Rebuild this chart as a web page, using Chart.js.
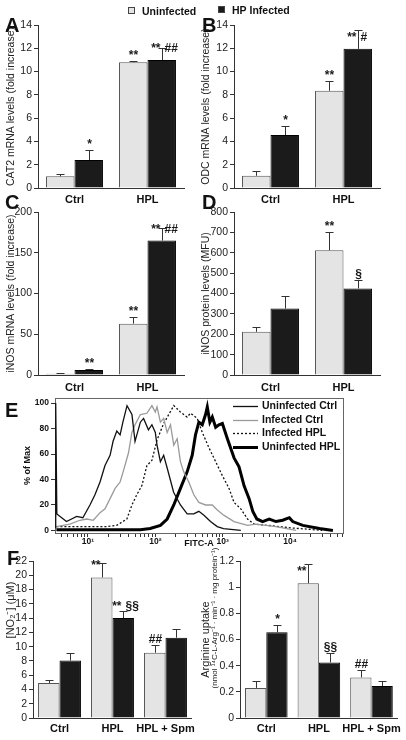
<!DOCTYPE html>
<html>
<head>
<meta charset="utf-8">
<script src="https://cdn.jsdelivr.net/npm/chart.js@4.4.1/dist/chart.umd.min.js"></script>
<style>
  html, body { margin: 0; padding: 0; background: #fff; }
  #page { position: relative; width: 406px; height: 740px; overflow: hidden; background: #fff; }
  #page canvas { position: absolute; }
</style>
</head>
<body>
<div id="page">
  <canvas id="chartA" style="left:0;top:0;width:200px;height:210px" width="200" height="210"></canvas>
  <canvas id="chartB" style="left:196px;top:0;width:210px;height:210px" width="210" height="210"></canvas>
  <canvas id="chartC" style="left:0;top:195px;width:200px;height:200px" width="200" height="200"></canvas>
  <canvas id="chartD" style="left:196px;top:195px;width:210px;height:200px" width="210" height="200"></canvas>
  <canvas id="chartE" style="left:0;top:390px;width:406px;height:160px" width="406" height="160"></canvas>
  <canvas id="chartF1" style="left:0;top:548px;width:200px;height:192px" width="200" height="192"></canvas>
  <canvas id="chartF2" style="left:196px;top:548px;width:210px;height:192px" width="210" height="192"></canvas>
</div>
<script>
// ---- data ----
const twoGroups = ['Ctrl', 'HPL'];
const threeGroups = ['Ctrl', 'HPL', 'HPL + Spm'];

// A: CAT2 mRNA (fold increase)
const cat2Uninfected = [1.0, 10.8];
const cat2UninfectedErr = [0.2, 0.12];
const cat2Infected = [2.4, 11.0];
const cat2InfectedErr = [0.9, 1.0];
const cat2UninfectedMarks = ['', '**'];
const cat2InfectedMarks = ['*', '** ##'];

// B: ODC mRNA (fold increase)
const odcUninfected = [1.05, 8.35];
const odcUninfectedErr = [0.37, 0.8];
const odcInfected = [4.55, 11.95];
const odcInfectedErr = [0.77, 1.6];
const odcUninfectedMarks = ['', '**'];
const odcInfectedMarks = ['*', '** #'];

// C: iNOS mRNA (fold increase)
const inosUninfected = [1.5, 63];
const inosUninfectedErr = [0.5, 8];
const inosInfected = [6, 165];
const inosInfectedErr = [1.2, 15];
const inosUninfectedMarks = ['', '**'];
const inosInfectedMarks = ['**', '** ##'];

// D: iNOS protein (MFU)
const protUninfected = [212, 612];
const protUninfectedErr = [25, 88];
const protInfected = [326, 425];
const protInfectedErr = [60, 42];
const protUninfectedMarks = ['', '**'];
const protInfectedMarks = ['', '§'];

// E: flow cytometry histograms (FITC-A vs % of max)
const histYTicks = [0, 20, 40, 60, 80, 100];
const uninfCtrlX = [3.3, 3.32, 3.45, 4.8, 6.8, 8.4, 10.7, 12.7, 15.1, 17.9, 21.3, 23.6, 26.8, 30, 33, 38, 45, 50, 60, 67, 79, 89, 100, 106, 119, 133, 150, 187, 236, 297, 372, 443, 527, 660, 830, 1030, 1860];
const uninfCtrlY = [2, 100, 13, 7, 11, 10, 20, 28, 38, 51, 59, 70, 78, 75, 85, 98, 91, 70, 85, 88, 79, 83, 77, 67, 54, 59, 49, 30, 20, 13, 13, 15, 12, 7, 3, 1.5, 0];
const infCtrlX = [3.4, 5.4, 7.6, 9.6, 12, 15.1, 17.9, 21.3, 25.3, 30, 33.7, 40, 44.9, 50, 60, 75, 89, 100, 106, 119, 133, 150, 168, 188, 211, 236, 264, 314, 373, 443, 557, 702, 834, 1035, 1476, 2339, 3112, 6184, 12300];
const infCtrlY = [3, 5, 8, 9, 8, 14, 17, 25, 33, 38, 47, 61, 77, 83, 91, 92, 98, 93, 97, 85, 88, 77, 83, 67, 72, 54, 46, 38, 28, 22, 20, 20, 16, 12, 7, 4, 5, 3, 0];
const infHplX = [3.4, 8.5, 19, 26.8, 37.8, 45, 53, 63, 75, 89, 106, 133, 188, 236, 297, 333, 419, 498, 625, 787, 990, 1243, 1476, 1858, 2339, 2931, 4645, 10350, 18370, 30000];
const infHplY = [3, 3, 3, 4, 9, 20, 28, 35, 51, 55, 71, 84, 98, 93, 89, 92, 88, 77, 65, 54, 43, 33, 22, 17, 9, 5, 4, 2, 1, 0];
const uninfHplX = [3.4, 60, 84, 119, 150, 188, 236, 297, 353, 395, 443, 498, 557, 591, 646, 702, 787, 881, 990, 1175, 1476, 1750, 2081, 2470, 2805, 3215, 3916, 4912, 6184, 7780, 9770, 10970, 15470, 27370, 43350];
const uninfHplY = [0.5, 0.5, 1.5, 4, 9, 20, 33, 46, 59, 75, 85, 83, 91, 97, 85, 89, 81, 83, 84, 72, 57, 50, 35, 25, 15, 9, 7, 9, 7, 8, 10, 7, 4, 1.5, 0];

// F: nitrite and arginine uptake
const no2Uninfected = [4.9, 19.7, 9.15];
const no2UninfectedErr = [0.47, 1.95, 1.07];
const no2Infected = [8.05, 14.0, 11.25];
const no2InfectedErr = [1.0, 0.93, 1.16];
const no2UninfectedMarks = ['', '** ', '##'];
const no2InfectedMarks = ['', '** §§', ''];

const argUninfected = [0.23, 1.03, 0.31];
const argUninfectedErr = [0.05, 0.145, 0.055];
const argInfected = [0.655, 0.425, 0.245];
const argInfectedErr = [0.056, 0.071, 0.04];
const argUninfectedMarks = ['', '** ', '##'];
const argInfectedMarks = ['*', '§§', ''];

// ---- styling ----
const FONT = '"Liberation Sans", Arial, Helvetica, sans-serif';
const LIGHT = '#e4e4e4', LIGHT_EDGE = '#555';
const DARK = '#1b1b1b', DARK_EDGE = '#000';
Chart.defaults.font.family = FONT;
Chart.defaults.color = '#222';

// error bars (upward only) + significance marks
const errorBars = {
  id: 'errorBars',
  afterDatasetsDraw(chart) {
    const ctx = chart.ctx;
    const yScale = chart.scales.y;
    chart.data.datasets.forEach((ds, di) => {
      const meta = chart.getDatasetMeta(di);
      meta.data.forEach((bar, i) => {
        const x = Math.round(bar.x) + 0.5;
        const cy = Math.round(yScale.getPixelForValue(ds.data[i] + ds.errors[i])) + 0.5;
        ctx.save();
        ctx.strokeStyle = '#333';
        ctx.lineWidth = 1;
        ctx.beginPath();
        ctx.moveTo(x, bar.y);
        ctx.lineTo(x, cy);
        ctx.moveTo(x - 4, cy);
        ctx.lineTo(x + 4, cy);
        ctx.stroke();
        const mark = ds.marks[i];
        if (mark) {
          ctx.fillStyle = '#1a1a1a';
          ctx.font = 'bold 12px ' + FONT;
          ctx.textBaseline = 'alphabetic';
          if (mark.indexOf(' ') >= 0) {
            // split around the error bar
            const parts = mark.split(' ');
            const by = bar.y - 8;
            ctx.textAlign = 'right';
            ctx.fillText(parts[0], x - 2, by);
            ctx.textAlign = 'left';
            ctx.fillText(parts[1], x + 2, by);
          } else {
            ctx.textAlign = 'center';
            ctx.fillText(mark, x, cy - 3);
          }
        }
        ctx.restore();
      });
    });
  }
};

// panel letters, top key, extra rotated labels
const panelText = {
  id: 'panelText',
  afterDraw(chart, args, o) {
    const ctx = chart.ctx;
    ctx.save();
    ctx.fillStyle = '#111';
    ctx.textBaseline = 'alphabetic';
    ctx.textAlign = 'left';
    if (o.letter) {
      ctx.font = 'bold 20px ' + FONT;
      ctx.fillText(o.letter, o.lx, o.ly);
    }
    if (o.key) {
      const ds = chart.data.datasets[o.key.dataset];
      ctx.fillStyle = ds.backgroundColor;
      ctx.fillRect(o.key.x, o.key.y, 7, 7);
      ctx.strokeStyle = '#444';
      ctx.lineWidth = 1;
      ctx.strokeRect(o.key.x + 0.5, o.key.y + 0.5, 6, 6);
      ctx.fillStyle = '#111';
      ctx.font = 'bold 10.5px ' + FONT;
      ctx.fillText(ds.label, o.key.x + 14, o.key.y + 7.5);
    }
    (o.side || []).forEach(s => {
      ctx.save();
      ctx.translate(s.x, s.y);
      ctx.rotate(-Math.PI / 2);
      ctx.textAlign = 'center';
      ctx.textBaseline = 'middle';
      ctx.font = s.font;
      ctx.fillStyle = '#222';
      ctx.fillText(s.text, 0, 0);
      ctx.restore();
    });
    ctx.restore();
  }
};

function barPanel(id, p) {
  return new Chart(document.getElementById(id), {
    type: 'bar',
    data: {
      labels: p.labels,
      datasets: [
        { label: 'Uninfected', data: p.uninf, errors: p.uninfErr, marks: p.uninfMarks,
          backgroundColor: LIGHT, borderColor: LIGHT_EDGE, borderWidth: 1 },
        { label: 'HP Infected', data: p.inf, errors: p.infErr, marks: p.infMarks,
          backgroundColor: DARK, borderColor: DARK_EDGE, borderWidth: 1 }
      ]
    },
    options: {
      responsive: false,
      animation: false,
      layout: { padding: p.pad },
      datasets: { bar: { categoryPercentage: p.catPct, barPercentage: 1, borderSkipped: 'bottom' } },
      scales: {
        x: {
          ticks: { color: '#111', font: { size: 11, weight: 'bold' }, padding: p.xPad,
                   maxRotation: 0, minRotation: 0, autoSkip: false },
          grid: { drawOnChartArea: false, drawTicks: false },
          border: { color: '#333' },
          afterFit: s => { s.height = p.xHeight; }
        },
        y: {
          min: 0,
          max: p.yMax,
          ticks: { stepSize: p.yStep, autoSkip: false, color: '#222', font: { size: 10.5 }, padding: 2,
                   callback: v => String(+v.toFixed(1)) },
          grid: { drawOnChartArea: false, tickLength: 4, color: '#333' },
          border: { color: '#333' },
          title: { display: !!p.title, text: p.title, color: '#222',
                   font: { size: p.titleSize || 10.5 }, padding: { top: p.titlePad, bottom: 0 } },
          afterFit: s => { s.width = p.yWidth; }
        }
      },
      plugins: { legend: { display: false }, tooltip: { enabled: false }, panelText: p.text }
    },
    plugins: [errorBars, panelText]
  });
}

barPanel('chartA', {
  labels: twoGroups, uninf: cat2Uninfected, uninfErr: cat2UninfectedErr, uninfMarks: cat2UninfectedMarks,
  inf: cat2Infected, infErr: cat2InfectedErr, infMarks: cat2InfectedMarks,
  yMax: 14, yStep: 2, title: 'CAT2 mRNA levels (fold increase)', titlePad: 5,
  pad: { top: 25, right: 16, left: 0, bottom: 0 }, yWidth: 38, xHeight: 22, xPad: 5, catPct: 0.78,
  text: { letter: 'A', lx: 5, ly: 32, key: { dataset: 0, x: 128, y: 7 } }
});
barPanel('chartB', {
  labels: twoGroups, uninf: odcUninfected, uninfErr: odcUninfectedErr, uninfMarks: odcUninfectedMarks,
  inf: odcInfected, infErr: odcInfectedErr, infMarks: odcInfectedMarks,
  yMax: 14, yStep: 2, title: 'ODC mRNA levels (fold increase)', titlePad: 4,
  pad: { top: 25, right: 26, left: 0, bottom: 0 }, yWidth: 38, xHeight: 22, xPad: 5, catPct: 0.78,
  text: { letter: 'B', lx: 6, ly: 32, key: { dataset: 1, x: 22, y: 6 } }
});
barPanel('chartC', {
  labels: twoGroups, uninf: inosUninfected, uninfErr: inosUninfectedErr, uninfMarks: inosUninfectedMarks,
  inf: inosInfected, infErr: inosInfectedErr, infMarks: inosInfectedMarks,
  yMax: 200, yStep: 50, title: 'iNOS mRNA levels (fold increase)', titlePad: 5,
  pad: { top: 17, right: 16, left: 0, bottom: 0 }, yWidth: 38, xHeight: 20, xPad: 6, catPct: 0.78,
  text: { letter: 'C', lx: 5, ly: 14 }
});
barPanel('chartD', {
  labels: twoGroups, uninf: protUninfected, uninfErr: protUninfectedErr, uninfMarks: protUninfectedMarks,
  inf: protInfected, infErr: protInfectedErr, infMarks: protInfectedMarks,
  yMax: 800, yStep: 100, title: 'iNOS protein levels (MFU)', titlePad: 4,
  pad: { top: 17, right: 26, left: 0, bottom: 0 }, yWidth: 38, xHeight: 20, xPad: 6, catPct: 0.78,
  text: { letter: 'D', lx: 6, ly: 14 }
});
barPanel('chartF1', {
  labels: threeGroups, uninf: no2Uninfected, uninfErr: no2UninfectedErr, uninfMarks: no2UninfectedMarks,
  inf: no2Infected, infErr: no2InfectedErr, infMarks: no2InfectedMarks,
  yMax: 22, yStep: 2, title: null, titlePad: 0,
  pad: { top: 13, right: 8, left: 0, bottom: 0 }, yWidth: 33, xHeight: 22, xPad: 4, catPct: 0.81,
  text: { letter: 'F', lx: 7, ly: 17,
          side: [{ text: '[NO\u2082\u207B] (\u03BCM)', x: 11, y: 62, font: '11px ' + FONT }] }
});
barPanel('chartF2', {
  labels: threeGroups, uninf: argUninfected, uninfErr: argUninfectedErr, uninfMarks: argUninfectedMarks,
  inf: argInfected, infErr: argInfectedErr, infMarks: argInfectedMarks,
  yMax: 1.2, yStep: 0.2, title: 'Arginine uptake', titlePad: 3, titleSize: 11,
  pad: { top: 13, right: 8, left: 0, bottom: 0 }, yWidth: 44, xHeight: 22, xPad: 4, catPct: 0.81,
  text: { side: [{ text: '(nmol \u00B9\u2074C-L-Arg\u207B\u00B9 \u00B7 min\u207B\u00B9 \u00B7 mg protein\u207B\u00B9)',
                   x: 19, y: 70, font: '8px ' + FONT }] }
});

// ---- E: histogram overlay ----
const toPoints = (xs, ys) => xs.map((x, i) => ({ x: x, y: ys[i] }));
const SUP = ['\u2070', '\u00B9', '\u00B2', '\u00B3', '\u2074', '\u2075'];

const frameBox = {
  id: 'frameBox',
  beforeDatasetsDraw(chart) {
    const a = chart.chartArea, ctx = chart.ctx;
    ctx.save();
    ctx.strokeStyle = '#666';
    ctx.lineWidth = 1;
    ctx.strokeRect(Math.round(a.left) + 0.5, Math.round(a.top) + 0.5,
                   Math.round(a.right - a.left), Math.round(a.bottom - a.top));
    ctx.restore();
  }
};
const lineKey = {
  id: 'lineKey',
  afterDraw(chart, args, o) {
    const ctx = chart.ctx;
    ctx.save();
    chart.data.datasets.forEach((ds, i) => {
      const y = Math.round(o.y + i * o.gap) + 0.5;
      ctx.strokeStyle = ds.borderColor;
      ctx.lineWidth = ds.borderWidth;
      ctx.setLineDash(ds.borderDash || []);
      ctx.beginPath();
      ctx.moveTo(o.x, y);
      ctx.lineTo(o.x + 25, y);
      ctx.stroke();
      ctx.setLineDash([]);
      ctx.fillStyle = '#111';
      ctx.font = 'bold 10.5px ' + FONT;
      ctx.textAlign = 'left';
      ctx.textBaseline = 'middle';
      ctx.fillText(ds.label, o.x + 29, y);
    });
    ctx.restore();
  }
};

new Chart(document.getElementById('chartE'), {
  type: 'scatter',
  data: {
    datasets: [
      { label: 'Uninfected Ctrl', data: toPoints(uninfCtrlX, uninfCtrlY), showLine: true,
        borderColor: '#111', borderWidth: 1.3 },
      { label: 'Infected Ctrl', data: toPoints(infCtrlX, infCtrlY), showLine: true,
        borderColor: '#9a9a9a', borderWidth: 1.3 },
      { label: 'Infected HPL', data: toPoints(infHplX, infHplY), showLine: true,
        borderColor: '#111', borderWidth: 1.3, borderDash: [2, 2] },
      { label: 'Uninfected HPL', data: toPoints(uninfHplX, uninfHplY), showLine: true,
        borderColor: '#000', borderWidth: 3 }
    ]
  },
  options: {
    responsive: false,
    animation: false,
    elements: { point: { radius: 0 }, line: { tension: 0 } },
    layout: { padding: { left: 20, right: 63, top: 8, bottom: 0 } },
    scales: {
      x: {
        type: 'logarithmic',
        min: 3.24,
        max: 61200,
        afterBuildTicks: s => {
          s.ticks = s.ticks.filter(t => {
            const e = Math.floor(Math.log10(t.value) + 1e-9);
            const m = t.value / Math.pow(10, e);
            return Math.abs(m - Math.round(m)) < 1e-6;
          });
        },
        ticks: {
          autoSkip: false, maxRotation: 0, padding: 0, color: '#111',
          font: { size: 8.5, weight: 'bold' },
          callback: v => {
            const e = Math.log10(v);
            return Math.abs(e - Math.round(e)) < 1e-9 ? '10' + SUP[Math.round(e)] : '';
          }
        },
        grid: { drawOnChartArea: false, tickLength: 4, color: '#333' },
        border: { color: '#333' },
        title: { display: true, text: 'FITC-A', color: '#111', font: { size: 9, weight: 'bold' },
                 padding: { top: 0, bottom: 1 } },
        afterFit: s => { s.height = 17; }
      },
      y: {
        min: -2,
        max: 104,
        afterBuildTicks: s => { s.ticks = histYTicks.map(v => ({ value: v })); },
        ticks: { color: '#111', font: { size: 8.5, weight: 'bold' }, padding: 2 },
        grid: { drawOnChartArea: false, tickLength: 4, color: '#333' },
        border: { color: '#333' },
        title: { display: true, text: '% of Max', color: '#111', font: { size: 9, weight: 'bold' },
                 padding: { top: 2, bottom: 0 } },
        afterFit: s => { s.width = 35; }
      }
    },
    plugins: {
      legend: { display: false },
      tooltip: { enabled: false },
      lineKey: { x: 233, y: 16, gap: 13.7 },
      panelText: { letter: 'E', lx: 5, ly: 27 }
    }
  },
  plugins: [frameBox, lineKey, panelText]
});
</script>
</body>
</html>
